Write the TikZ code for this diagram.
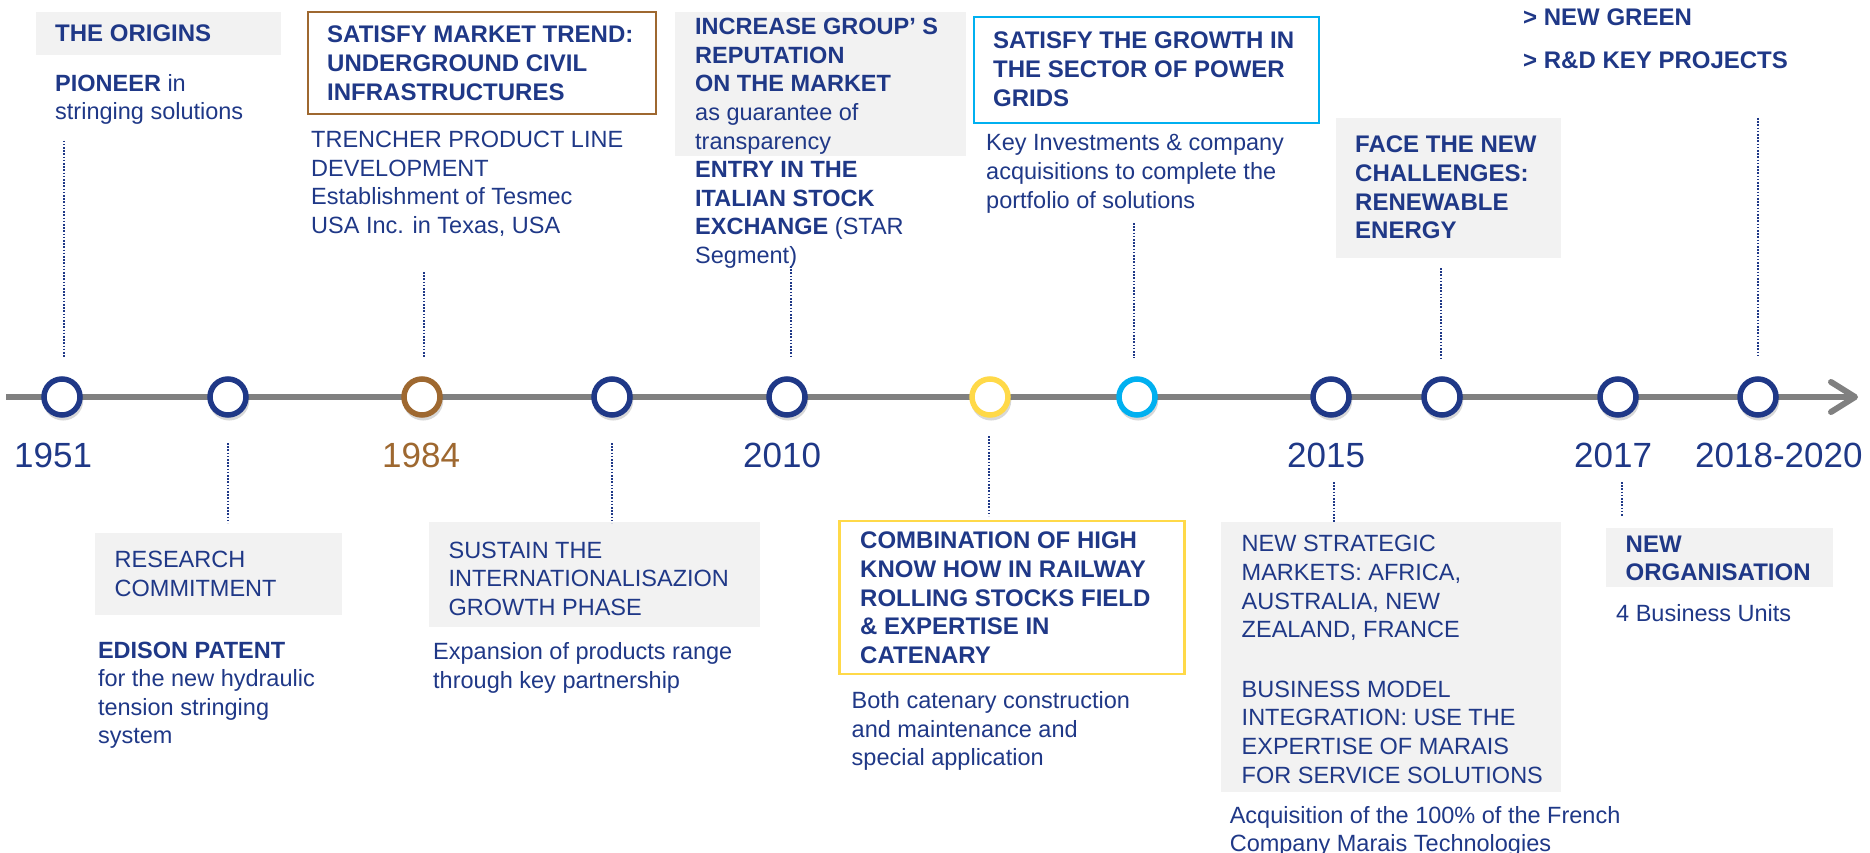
\documentclass[tikz,border=0pt]{standalone}
\usepackage{fontspec}
\setmainfont{Liberation Sans}
\usetikzlibrary{arrows.meta,shadows}
\definecolor{navy}{RGB}{31,56,135}
\definecolor{brownc}{RGB}{158,104,48}
\definecolor{yellowc}{RGB}{255,217,72}
\definecolor{cyanc}{RGB}{0,176,240}
\definecolor{linegray}{RGB}{128,128,128}
\definecolor{boxgray}{RGB}{242,242,242}
\begin{document}
\begin{tikzpicture}[x=1pt,y=-1pt,
  txt/.style={anchor=north west, inner sep=0pt, align=left, text=navy, font=\fontsize{23.5}{28.6}\selectfont},
  btxt/.style={txt, font=\fontsize{24}{28.6}\selectfont\bfseries},
  year/.style={anchor=base west, inner sep=0pt, text=navy, font=\fontsize{35}{40}\selectfont},
  ev/.style={circle, draw=navy, fill=white, line width=5.5pt, minimum size=36pt, inner sep=0pt,
     drop shadow={shadow xshift=1pt, shadow yshift=-3pt, shadow scale=1.12, opacity=0.22, fill=black!70}},
  dots/.style={draw=navy, line width=1.6pt, dash pattern=on 1.6pt off 1.6pt},
  tl/.style={draw=linegray, line width=6pt, -{Straight Barb[length=24pt,width=30pt,round]}}
]
\useasboundingbox (0,0) rectangle (1870,853);

% ---------- boxes ----------
\fill[boxgray] (36,12) rectangle (281,55);
\draw[brownc, line width=2pt] (308,12) rectangle (656,114.5);
\fill[boxgray] (675,12) rectangle (966,156);
\draw[cyanc, line width=2.2pt] (974,16.7) rectangle (1319,122.8);
\fill[boxgray] (1336,118) rectangle (1561,257.6);
\fill[boxgray] (95.4,533) rectangle (342.3,615.4);
\fill[boxgray] (429,522) rectangle (760,627);
\draw[yellowc, line width=2.5pt] (839.6,521) rectangle (1184.3,673.8);
\fill[boxgray] (1221,522) rectangle (1561,792);
\fill[boxgray] (1606.4,528) rectangle (1833,586.8);

% ---------- timeline ----------
\coordinate (tlstart) at (6,397);
\coordinate (tlend) at (1858,397);
\path[tl] (tlstart) -- (tlend);

\node[ev] (e1) at (62,397) {};
\node[ev] (e2) at (228,397) {};
\node[ev, draw=brownc] (e3) at (422,397) {};
\node[ev] (e4) at (612,397) {};
\node[ev] (e5) at (787,397) {};
\node[ev, draw=yellowc] (e6) at (990,397) {};
\node[ev, draw=cyanc] (e7) at (1137,397) {};
\node[ev] (e8) at (1331,397) {};
\node[ev] (e9) at (1442,397) {};
\node[ev] (e10) at (1618,397) {};
\node[ev] (e11) at (1758,397) {};

% ---------- years ----------
\node[year] (y1951) at (14,467) {1951};
\node[year, text=brownc] (y1984) at (382,467) {1984};
\node[year] (y2010) at (743,467) {2010};
\node[year] (y2015) at (1287,467) {2015};
\node[year] (y2017) at (1574,467) {2017};
\node[year] (y2018) at (1695,467) {2018-2020};

% ---------- upper texts ----------
\node[btxt] (t1) at (55,25) {THE ORIGINS};
\node[txt] (t1b) at (55,74) {\textbf{PIONEER} in\\stringing solutions};

\node[btxt] (t3) at (327,26) {SATISFY MARKET TREND:\\UNDERGROUND CIVIL\\INFRASTRUCTURES};
\node[txt] (t3b) at (311,131) {TRENCHER PRODUCT LINE\\DEVELOPMENT\\Establishment of Tesmec\\USA Inc. in Texas, USA};

\node[txt] (t5) at (695,18) {\textbf{INCREASE GROUP’ S}\\\textbf{REPUTATION}\\\textbf{ON THE MARKET}\\as guarantee of\\transparency\\\textbf{ENTRY IN THE}\\\textbf{ITALIAN STOCK}\\\textbf{EXCHANGE} (STAR\\Segment)};

\node[btxt] (t7) at (993,32) {SATISFY THE GROWTH IN\\THE SECTOR OF POWER\\GRIDS};
\node[txt] (t7b) at (986,134.5) {Key Investments \& company\\acquisitions to complete the\\portfolio of solutions};

\node[btxt] (t9) at (1355,136) {FACE THE NEW\\CHALLENGES:\\RENEWABLE\\ENERGY};

\node[txt, font=\fontsize{24}{43}\selectfont\bfseries] (t11) at (1523,8.3) {> NEW GREEN\\> R\&D KEY PROJECTS};

% ---------- lower texts ----------
\node[txt] (t2) at (114.5,551) {RESEARCH\\COMMITMENT};
\node[txt] (t2b) at (97.8,641.5) {\textbf{EDISON PATENT}\\for the new hydraulic\\tension stringing\\system};

\node[txt] (t4) at (448.4,541.4) {SUSTAIN THE\\INTERNATIONALISAZION\\GROWTH PHASE};
\node[txt] (t4b) at (433,642.6) {Expansion of products range\\through key partnership};

\node[btxt] (t6) at (860,532) {COMBINATION OF HIGH\\KNOW HOW IN RAILWAY\\ROLLING STOCKS FIELD\\\& EXPERTISE IN\\CATENARY};
\node[txt] (t6b) at (851.5,691.5) {Both catenary construction\\and maintenance and\\special application};

\node[txt] (t8) at (1241.5,535.3) {NEW STRATEGIC\\MARKETS: AFRICA,\\AUSTRALIA, NEW\\ZEALAND, FRANCE\\[31pt]BUSINESS MODEL\\INTEGRATION: USE THE\\EXPERTISE OF MARAIS\\FOR SERVICE SOLUTIONS};
\node[txt] (t8b) at (1229.6,806) {Acquisition of the 100\% of the French\\Company Marais Technologies};

\node[btxt] (t10) at (1625.5,535.3) {NEW\\ORGANISATION};
\node[txt] (t10b) at (1616,604.5) {4 Business Units};

% ---------- dotted connectors ----------
\coordinate (d1a) at (64,140.7);   \coordinate (d1b) at (64,357.8);
\coordinate (d3a) at (424,272);    \coordinate (d3b) at (424,357.8);
\coordinate (d5a) at (791,266);    \coordinate (d5b) at (791,357.8);
\coordinate (d7a) at (1134,223);   \coordinate (d7b) at (1134,357.8);
\coordinate (d9a) at (1441,268);   \coordinate (d9b) at (1441,357.8);
\coordinate (d11a) at (1758,118);  \coordinate (d11b) at (1758,357.8);
\coordinate (d2a) at (228,443);    \coordinate (d2b) at (228,523);
\coordinate (d4a) at (612,443);    \coordinate (d4b) at (612,523);
\coordinate (d6a) at (989,436);    \coordinate (d6b) at (989,516);
\coordinate (d8a) at (1334,482);   \coordinate (d8b) at (1334,523);
\coordinate (d10a) at (1622,482);  \coordinate (d10b) at (1622,516);
\foreach \n in {1,...,11} { \draw[dots] (d\n a) -- (d\n b); }
\end{tikzpicture}
\end{document}
